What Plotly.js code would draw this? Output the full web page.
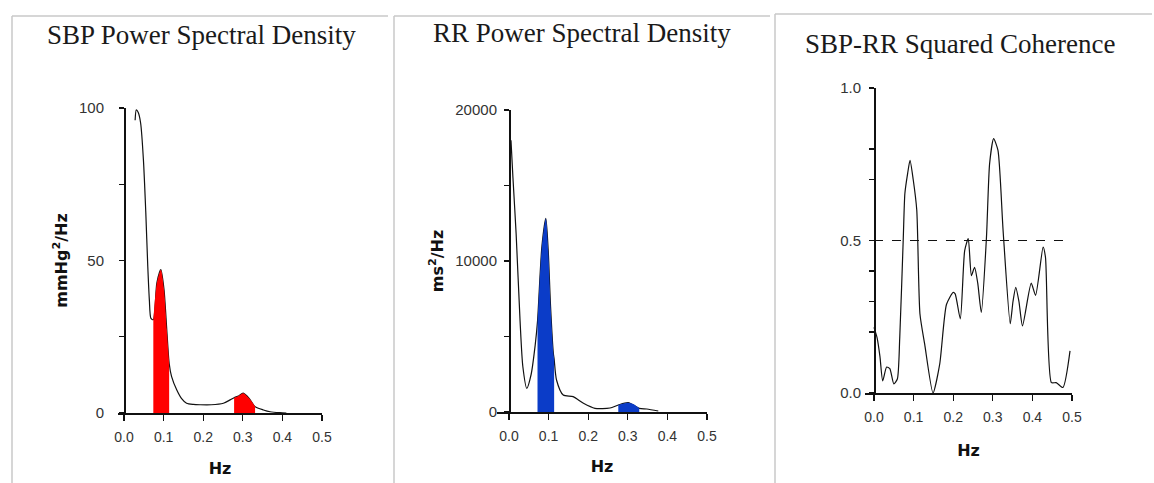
<!DOCTYPE html>
<html>
<head>
<meta charset="utf-8">
<script src="https://cdn.plot.ly/plotly-3.0.1.min.js"></script>
<style>html,body{margin:0;padding:0;background:#fff;}#chart{width:1154px;height:483px;}</style>
</head>
<body>
<div id="chart"></div>
<script>
// ---------- DATA ----------
const panelTitles = ["SBP Power Spectral Density", "RR Power Spectral Density", "SBP-RR Squared Coherence"];
const xTickVals = [0, 0.1, 0.2, 0.3, 0.4, 0.5];
const xTickText = ["0.0", "0.1", "0.2", "0.3", "0.4", "0.5"];

// SBP power spectral density (mmHg^2/Hz)
const sbpFreq  = [0.028,0.031,0.036,0.042,0.049,0.055,0.060,0.064,0.068,0.074,0.083,0.093,0.101,0.108,0.114,0.120,0.133,0.145,0.158,0.175,0.192,0.220,0.251,0.268,0.278,0.289,0.301,0.316,0.331,0.352,0.369,0.394,0.410];
const sbpPower = [96,99.4,98.5,95,83,65.7,48,37,31,30.6,42.7,47,40.5,27.3,16.3,12,7.6,4.8,3.2,2.8,2.7,2.7,3.2,4.3,5.0,5.6,6.5,4.8,2.1,1.0,0.4,0.1,0];
const sbpLFFreq  = [0.074,0.083,0.093,0.101,0.108,0.114];
const sbpLFPower = [30.6,42.7,47,40.5,27.3,16.3];
const sbpHFFreq  = [0.278,0.289,0.301,0.316,0.331];
const sbpHFPower = [5.0,5.6,6.5,4.8,2.1];
const sbpTickVals = [0, 50, 100];
const sbpTickText = ["0", "50", "100"];
const sbpMinorTicks = [25, 75];

// RR power spectral density (ms^2/Hz)
const rrFreq  = [0.005,0.010,0.018,0.028,0.035,0.045,0.056,0.066,0.072,0.083,0.093,0.099,0.105,0.112,0.114,0.120,0.137,0.162,0.188,0.217,0.255,0.276,0.301,0.329,0.348,0.377];
const rrPower = [18000,15500,11800,6000,3000,1570,2500,4400,6000,10940,12820,10720,6970,3890,3500,2120,1125,1015,574,243,265,463,618,243,199,66];
const rrLFFreq  = [0.072,0.083,0.093,0.099,0.105,0.112,0.114];
const rrLFPower = [6000,10940,12820,10720,6970,3890,3500];
const rrHFFreq  = [0.276,0.289,0.301,0.315,0.329];
const rrHFPower = [463,560,618,520,243];
const rrTickVals = [0, 10000, 20000];
const rrTickText = ["0", "10000", "20000"];
const rrMinorTicks = [5000, 15000];

// SBP-RR squared coherence
const cohFreq  = [0.0,0.008,0.015,0.022,0.032,0.04,0.05,0.059,0.065,0.074,0.078,0.085,0.091,0.099,0.108,0.116,0.128,0.149,0.166,0.183,0.2,0.205,0.218,0.229,0.238,0.246,0.254,0.262,0.271,0.284,0.292,0.302,0.313,0.326,0.344,0.351,0.358,0.366,0.375,0.397,0.408,0.427,0.433,0.448,0.46,0.477,0.495];
const cohValue = [0.215,0.18,0.12,0.04,0.085,0.08,0.03,0.046,0.18,0.51,0.654,0.72,0.763,0.70,0.60,0.26,0.16,0.0,0.095,0.29,0.33,0.325,0.243,0.467,0.506,0.385,0.412,0.36,0.264,0.51,0.753,0.834,0.796,0.533,0.227,0.30,0.346,0.30,0.22,0.36,0.32,0.478,0.445,0.034,0.034,0.018,0.138];
const thresholdFreq  = [0, 0.5];
const thresholdValue = [0.5, 0.5];
const cohTickVals = [0, 0.5, 1.0];
const cohTickText = ["0.0", "0.5", "1.0"];
const cohMinorTicks = [0.2, 0.3, 0.4, 0.7, 0.8];

// ---------- LAYOUT HELPERS ----------
const W = 1154, H = 483;
const px = x => x / W;
const py = y => 1 - y / H;

const RED = "#ff0000", BLUE = "#0b3cc8";
const lineStyle = {color: "#111", width: 1.2, shape: "spline", smoothing: 0.7};

function band(x, y, xa, ya, color) {
  return {x: x, y: y, xaxis: xa, yaxis: ya, type: "scatter", mode: "lines",
          fill: "tozeroy", fillcolor: color, line: {width: 0, color: color, shape: "spline", smoothing: 0.7},
          hoverinfo: "skip", showlegend: false};
}
function curve(x, y, xa, ya, extra) {
  return Object.assign({x: x, y: y, xaxis: xa, yaxis: ya, type: "scatter", mode: "lines",
          line: lineStyle, showlegend: false}, extra || {});
}

const traces = [
  curve(sbpFreq, sbpPower, "x", "y"),
  band(sbpLFFreq, sbpLFPower, "x", "y", RED),
  band(sbpHFFreq, sbpHFPower, "x", "y", RED),
  curve(rrFreq, rrPower, "x2", "y2"),
  band(rrLFFreq, rrLFPower, "x2", "y2", BLUE),
  band(rrHFFreq, rrHFPower, "x2", "y2", BLUE),
  curve(cohFreq, cohValue, "x3", "y3", {line: {color: "#111", width: 1.2, shape: "spline", smoothing: 0.6}}),
  curve(thresholdFreq, thresholdValue, "x3", "y3", {line: {color: "#111", width: 1.2, dash: "dash"}})
];

const xTickFont = {family: "Liberation Sans, Arial, sans-serif", size: 14, color: "#333"};
const yTickFont = {family: "Liberation Sans, Arial, sans-serif", size: 15, color: "#333"};
const titleFont = {family: "DejaVu Sans, sans-serif", size: 16, color: "#111", weight: "bold"};

function xAxis(x0, x1, rmin, anchor, standoff) {
  return {domain: [px(x0), px(x1)], range: [rmin, 0.5], anchor: anchor,
          showgrid: false, zeroline: false, showline: true, linecolor: "#111", linewidth: 1.5,
          ticks: "outside", ticklen: 6, tickwidth: 1.2, tickcolor: "#111",
          tickmode: "array", tickvals: xTickVals, ticktext: xTickText, tickfont: xTickFont, ticklabelstandoff: 5,
          title: {text: "Hz", font: titleFont, standoff: standoff}, fixedrange: true};
}
function yAxis(y0, y1, range, pos, tv, tt, minor, title, standoffLabel) {
  const ax = {domain: [py(y0), py(y1)], range: range, anchor: "free", position: px(pos),
          showgrid: false, zeroline: false, showline: true, linecolor: "#111", linewidth: 1.5,
          ticks: "outside", ticklen: 5, tickwidth: 1.2, tickcolor: "#111",
          tickmode: "array", tickvals: tv, ticktext: tt, tickfont: yTickFont, ticklabelstandoff: standoffLabel,
          minor: {tickmode: "array", tickvals: minor, ticks: "outside", ticklen: 5, tickwidth: 1.2, tickcolor: "#111", showgrid: false},
          fixedrange: true};
  if (title) ax.title = {text: title, font: titleFont, standoff: 6};
  return ax;
}

const border = "#c8c8c8";
function frame(x0, y0, x1) {
  return [
    {type: "line", xref: "paper", yref: "paper", x0: px(x0), x1: px(x0), y0: py(y0), y1: py(483), line: {color: border, width: 1.5}},
    {type: "line", xref: "paper", yref: "paper", x0: px(x0), x1: px(x1), y0: py(y0), y1: py(y0), line: {color: border, width: 1.5}}
  ];
}

const titleAnnFont = {family: "Liberation Serif, Times New Roman, serif", size: 27, color: "#1a1a1a"};
function titleAnn(text, cx, cy) {
  return {text: text, xref: "paper", yref: "paper", x: px(cx), y: py(cy),
          xanchor: "center", yanchor: "middle", showarrow: false, font: titleAnnFont};
}

const layout = {
  width: W, height: H, margin: {l: 0, r: 0, t: 0, b: 0},
  paper_bgcolor: "#fff", plot_bgcolor: "rgba(0,0,0,0)", showlegend: false,
  xaxis:  xAxis(118, 322, -0.0152, "y", 18),
  yaxis:  yAxis(413, 108, [0, 100], 124, sbpTickVals, sbpTickText, sbpMinorTicks, "mmHg<sup>2</sup>/Hz", 12),
  xaxis2: xAxis(497, 707, -0.0303, "y2", 17),
  yaxis2: yAxis(412, 110, [0, 20000], 509, rrTickVals, rrTickText, rrMinorTicks, "ms<sup>2</sup>/Hz", 4),
  xaxis3: xAxis(865, 1072, -0.0227, "y3", 20),
  yaxis3: yAxis(393, 88, [0, 1], 874, cohTickVals, cohTickText, cohMinorTicks, null, 5),
  shapes: [].concat(frame(12, 16, 388), frame(394, 16, 770), frame(775, 14, 1152)),
  annotations: [
    titleAnn(panelTitles[0], 201, 35),
    titleAnn(panelTitles[1], 582, 33),
    titleAnn(panelTitles[2], 960, 44)
  ]
};

Plotly.newPlot("chart", traces, layout, {displayModeBar: false, staticPlot: true});
</script>
</body>
</html>
